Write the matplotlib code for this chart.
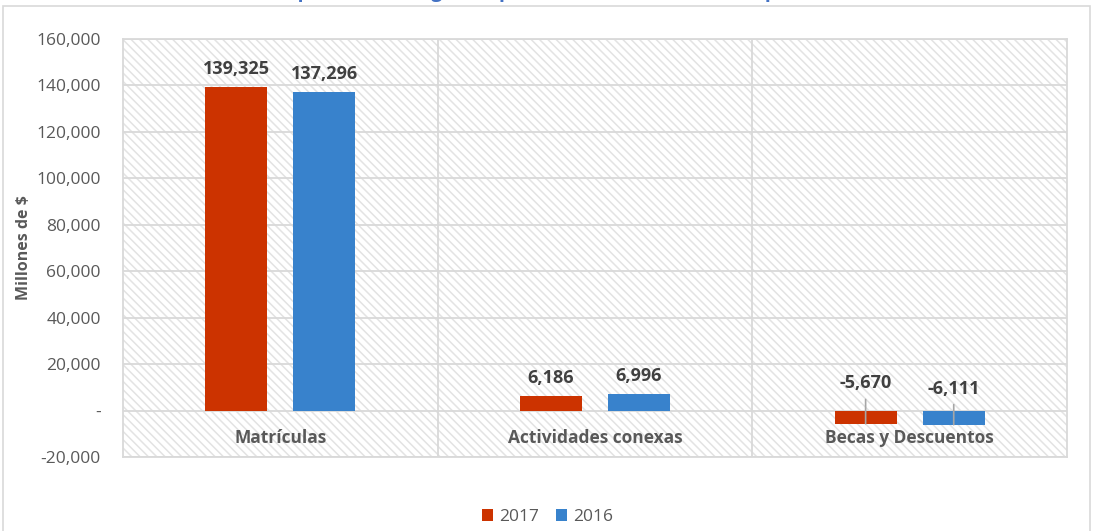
import matplotlib
matplotlib.use('Agg')
from matplotlib import pyplot as plt
from matplotlib.patches import Rectangle
from matplotlib.ticker import FuncFormatter, MultipleLocator


# valores en millones de pesos
categorias = ['Matrículas', 'Actividades conexas', 'Becas y Descuentos']
valores_2017 = [139325, 6186, -5670]
valores_2016 = [137296, 6996, -6111]
anios = ['2017', '2016']

ROJO = '#CC3300'
AZUL = '#3882CC'
GRIS_TEXTO = '#595959'
GRIS_LINEA = '#D9D9D9'

plt.rcParams['font.family'] = ['Open Sans', 'DejaVu Sans']
plt.rcParams['hatch.color'] = '#E3E3E3'
plt.rcParams['hatch.linewidth'] = 1.1

fig = plt.figure(figsize=(10.95, 5.31), dpi=100)

# marco exterior del gráfico
fig.patches.append(Rectangle((3 / 1095, -0.05), 1087 / 1095, 1.05 - 6 / 531, transform=fig.transFigure,
                             facecolor='none', edgecolor=GRIS_LINEA, linewidth=1.2))

# título (queda recortado arriba)
fig.text(565 / 1095, 1 + 3 / 531, 'Composición de ingresos por matrículas 2017 - 2016 (pesos 2017)',
         ha='center', va='baseline', color='#4472C4', fontsize=14, fontweight='bold')

ax = fig.add_axes([123 / 1095, 74 / 531, 944 / 1095, 418 / 531])
ax.add_patch(Rectangle((0, 0), 1, 1, transform=ax.transAxes, facecolor='white', edgecolor='#E3E3E3',
                       linewidth=0, hatch='\\\\\\\\', zorder=0))

x = list(range(len(categorias)))
ancho = 0.197
desp = 0.14
barras_17 = ax.bar([i - desp for i in x], valores_2017, width=ancho, color=ROJO, label=anios[0], zorder=3)
barras_16 = ax.bar([i + desp for i in x], valores_2016, width=ancho, color=AZUL, label=anios[1], zorder=3)

ax.set_xlim(-0.5, len(categorias) - 0.5)
ax.set_ylim(-20000, 160000)
ax.yaxis.set_major_locator(MultipleLocator(20000))
ax.yaxis.set_major_formatter(FuncFormatter(lambda v, p: '-' if v == 0 else f'{v:,.0f}'))
ax.tick_params(axis='y', length=0, pad=16, labelsize=12.5, labelcolor=GRIS_TEXTO)
ax.set_xticks([])
ax.grid(axis='y', color=GRIS_LINEA, linewidth=1.3, zorder=1)
for sep in [0.5, 1.5]:
    ax.axvline(sep, color=GRIS_LINEA, linewidth=1.3, zorder=1)
for lado in ax.spines.values():
    lado.set_color(GRIS_LINEA)
    lado.set_linewidth(1.3)

ax.set_ylabel('Millones de $', fontsize=11.5, fontweight='bold', color=GRIS_TEXTO, labelpad=3)

# nombres de categoría justo bajo la línea de cero
for i, nombre in enumerate(categorias):
    ax.text(i, -12000, nombre, ha='center', va='center', fontsize=12.5, fontweight='bold', color=GRIS_TEXTO,
            zorder=4)

# etiquetas de valor
for barras, valores, subida in [(barras_17, valores_2017, 29), (barras_16, valores_2016, 26)]:
    for b, v in zip(barras, valores):
        xc = b.get_x() + b.get_width() / 2
        if v >= 0:
            ax.annotate(f'{v:,}', xy=(xc, v), xytext=(0, 13), textcoords='offset points',
                        ha='center', va='center', fontsize=13, fontweight='bold', color='#404040', zorder=5)
        else:
            ax.annotate(f'{v:,}', xy=(xc, v), xytext=(0, subida), textcoords='offset points',
                        ha='center', va='center', fontsize=13, fontweight='bold', color='#404040', zorder=5,
                        arrowprops=dict(arrowstyle='-', color='#A6A6A6', linewidth=1.2, shrinkA=3, shrinkB=0))

fig.legend(handles=[barras_17, barras_16], loc='center', bbox_to_anchor=(0.5, 14 / 531), ncol=2, frameon=False,
           fontsize=12.5, handlelength=0.65, handleheight=0.65, handletextpad=0.35, columnspacing=1.0,
           labelcolor=GRIS_TEXTO)

fig.savefig('out.png', dpi=100)
